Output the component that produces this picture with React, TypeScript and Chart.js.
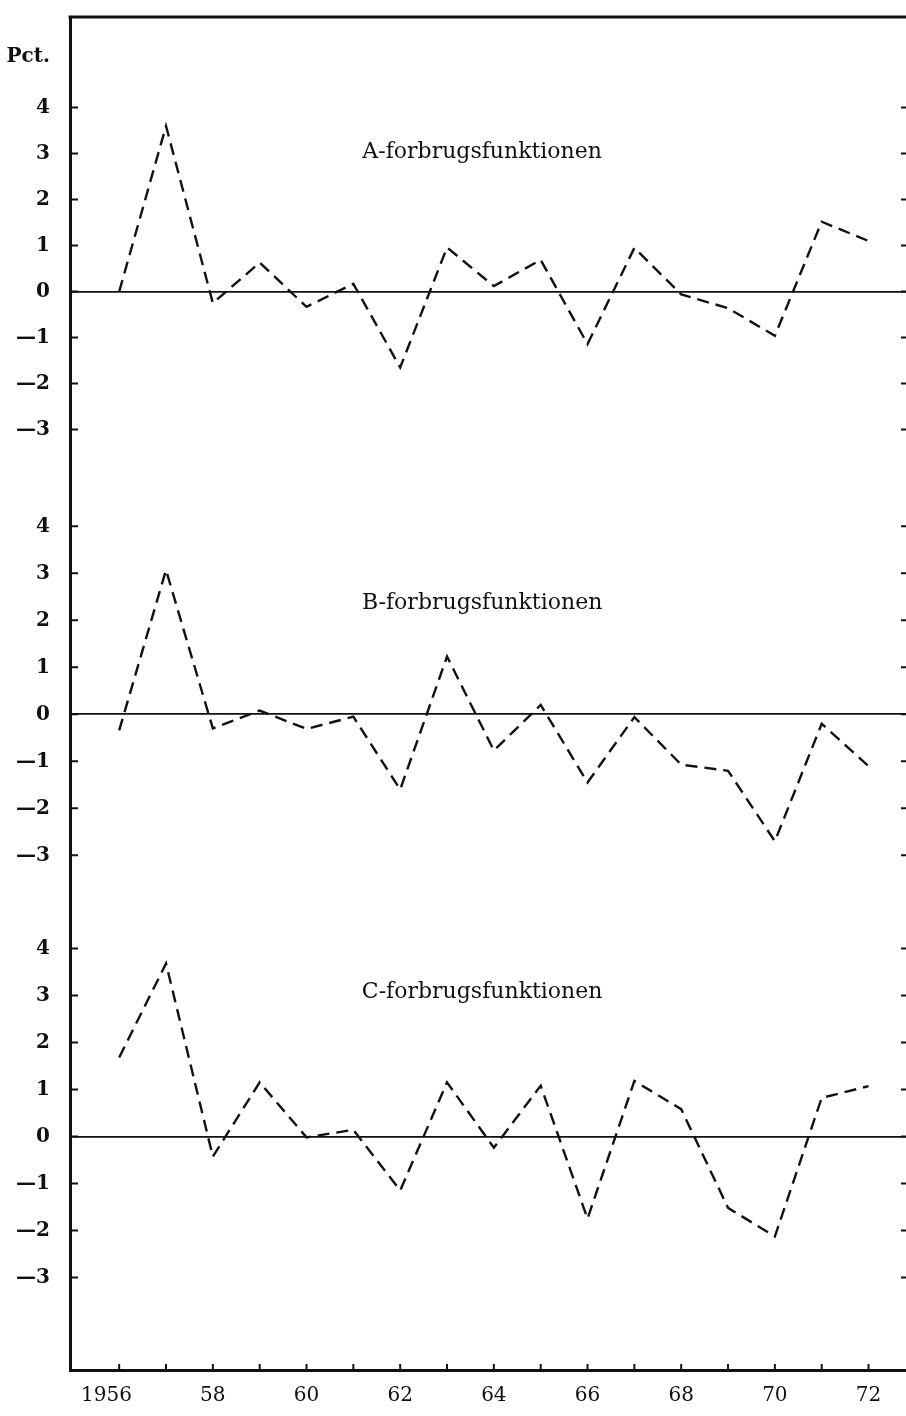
import React, { useEffect, useRef } from 'react';
import { Chart, registerables } from 'chart.js';

Chart.register(...registerables);

// ---- data ----
const years = [1956, 1957, 1958, 1959, 1960, 1961, 1962, 1963, 1964, 1965, 1966, 1967, 1968, 1969, 1970, 1971, 1972];
const seriesA = [0, 3.6, -0.25, 0.63, -0.33, 0.17, -1.65, 0.96, 0.12, 0.69, -1.14, 0.95, -0.06, -0.36, -0.96, 1.52, 1.1];
const seriesB = [-0.34, 3.07, -0.3, 0.08, -0.31, -0.05, -1.6, 1.23, -0.77, 0.2, -1.45, -0.06, -1.07, -1.2, -2.7, -0.2, -1.1];
const seriesC = [1.68, 3.68, -0.43, 1.15, -0.02, 0.14, -1.15, 1.15, -0.24, 1.08, -1.75, 1.18, 0.58, -1.52, -2.13, 0.82, 1.07];
const panelTitles = ['A-forbrugsfunktionen', 'B-forbrugsfunktionen', 'C-forbrugsfunktionen'];
const yTickValues = [-3, -2, -1, 0, 1, 2, 3, 4];
const yTickLabels = ['—3', '—2', '—1', '0', '1', '2', '3', '4'];
const unitLabel = 'Pct.';
const unitValue = 5.1;
const xTickLabels = ['1956    ', '', '58', '', '60', '', '62', '', '64', '', '66', '', '68', '', '70', '', '72'];

const panelIds = ['yA', 'yB', 'yC'];
const panelSeries = [seriesA, seriesB, seriesC];

const yLabel = (v: number) => {
  if (Math.abs(v - unitValue) < 1e-6) return unitLabel;
  const i = yTickValues.indexOf(v);
  return i >= 0 ? yTickLabels[i] : '';
};

const INK = '#111';

const decorPlugin = {
  id: 'decor',
  afterDraw(chart: any) {
    const { ctx, chartArea, scales } = chart;
    ctx.save();
    ctx.strokeStyle = INK;
    ctx.fillStyle = INK;
    // top frame line
    ctx.lineWidth = 3;
    ctx.beginPath();
    ctx.moveTo(chartArea.left - 1.5, chartArea.top);
    ctx.lineTo(chartArea.right, chartArea.top);
    ctx.stroke();
    // inward tick marks on y axes (left and right)
    ctx.lineWidth = 2;
    panelIds.forEach((id) => {
      const s = scales[id];
      yTickValues.forEach((v) => {
        const y = s.getPixelForValue(v);
        ctx.beginPath();
        ctx.moveTo(chartArea.left, y);
        ctx.lineTo(chartArea.left + 8, y);
        ctx.moveTo(chartArea.right - 5, y);
        ctx.lineTo(chartArea.right, y);
        ctx.stroke();
      });
    });
    // inward tick marks on x axis
    years.forEach((v) => {
      const x = scales.x.getPixelForValue(v);
      ctx.beginPath();
      ctx.moveTo(x, chartArea.bottom);
      ctx.lineTo(x, chartArea.bottom - 6);
      ctx.stroke();
    });
    // panel titles
    const titleX = 1963.75;
    const titleY = [2.9, 2.24, 2.95];
    ctx.font = '22px "DejaVu Serif"';
    ctx.textAlign = 'center';
    ctx.textBaseline = 'alphabetic';
    panelIds.forEach((id, i) => {
      ctx.fillText(panelTitles[i], scales.x.getPixelForValue(titleX), scales[id].getPixelForValue(titleY[i]));
    });
    ctx.restore();
  },
};

const panelRanges = [
  { min: -4.03, max: 5.97, weight: 460 },
  { min: -3.95, max: 5.05, weight: 423 },
  { min: -4.97, max: 5.03, weight: 470 },
];

function makeYScale(i: number) {
  const r = panelRanges[i];
  return {
    type: 'linear',
    position: 'left',
    stack: 'panels',
    stackWeight: r.weight,
    min: r.min,
    max: r.max,
    afterBuildTicks: (s: any) => {
      const vals = i === 0 ? [...yTickValues, unitValue] : yTickValues;
      s.ticks = vals.map((v) => ({ value: v }));
    },
    afterFit: (s: any) => {
      s.width = 70;
      s.paddingTop = 0;
      s.paddingBottom = 0;
    },
    ticks: {
      callback: (v: number) => yLabel(v),
      color: INK,
      padding: 20,
      font: { family: 'DejaVu Serif', size: 20, weight: 'bold' },
    },
    grid: {
      drawTicks: false,
      drawOnChartArea: true,
      color: (c: any) => (c.tick && c.tick.value === 0 ? INK : 'rgba(0,0,0,0)'),
      lineWidth: 1.8,
    },
    border: { display: true, color: INK, width: 3 },
  };
}

export default function App() {
  const canvasRef = useRef<HTMLCanvasElement | null>(null);

  useEffect(() => {
    if (!canvasRef.current) return;
    const datasets = panelSeries.map((series, i) => ({
      label: panelTitles[i],
      data: years.map((x, k) => ({ x, y: series[k] })),
      yAxisID: panelIds[i],
      borderColor: INK,
      borderWidth: 2.4,
      borderDash: [12, 7],
      pointRadius: 0,
      tension: 0,
      fill: false,
    }));
    const chart = new Chart(canvasRef.current, {
      type: 'line',
      data: { datasets },
      options: {
        animation: false,
        responsive: false,
        devicePixelRatio: 1,
        layout: { padding: { top: 17, left: 0, right: 0, bottom: 0 } },
        plugins: { legend: { display: false }, tooltip: { enabled: false } },
        scales: {
          x: {
            type: 'linear',
            min: 1954.95,
            max: 1972.8,
            afterBuildTicks: (s: any) => {
              s.ticks = years.map((v) => ({ value: v }));
            },
            afterFit: (s: any) => {
              s.height = 46;
              s.paddingLeft = 0;
              s.paddingRight = 0;
            },
            ticks: {
              autoSkip: false,
              maxRotation: 0,
              padding: 14,
              color: INK,
              font: { family: 'DejaVu Serif', size: 20 },
              callback: (v: number) => {
                const i = years.indexOf(v);
                return i >= 0 ? xTickLabels[i] : '';
              },
            },
            grid: { drawOnChartArea: false, drawTicks: false },
            border: { display: true, color: INK, width: 3 },
          },
          // stacked axes are laid out bottom-up in definition order
          yC: makeYScale(2),
          yB: makeYScale(1),
          yA: makeYScale(0),
        } as any,
      },
      plugins: [decorPlugin],
    } as any);
    return () => chart.destroy();
  }, []);

  return (
    <div style={{ position: 'absolute', left: 0, top: 0, width: 906, height: 1416, background: '#fff' }}>
      <canvas ref={canvasRef} width={906} height={1416} style={{ display: 'block' }} />
    </div>
  );
}
